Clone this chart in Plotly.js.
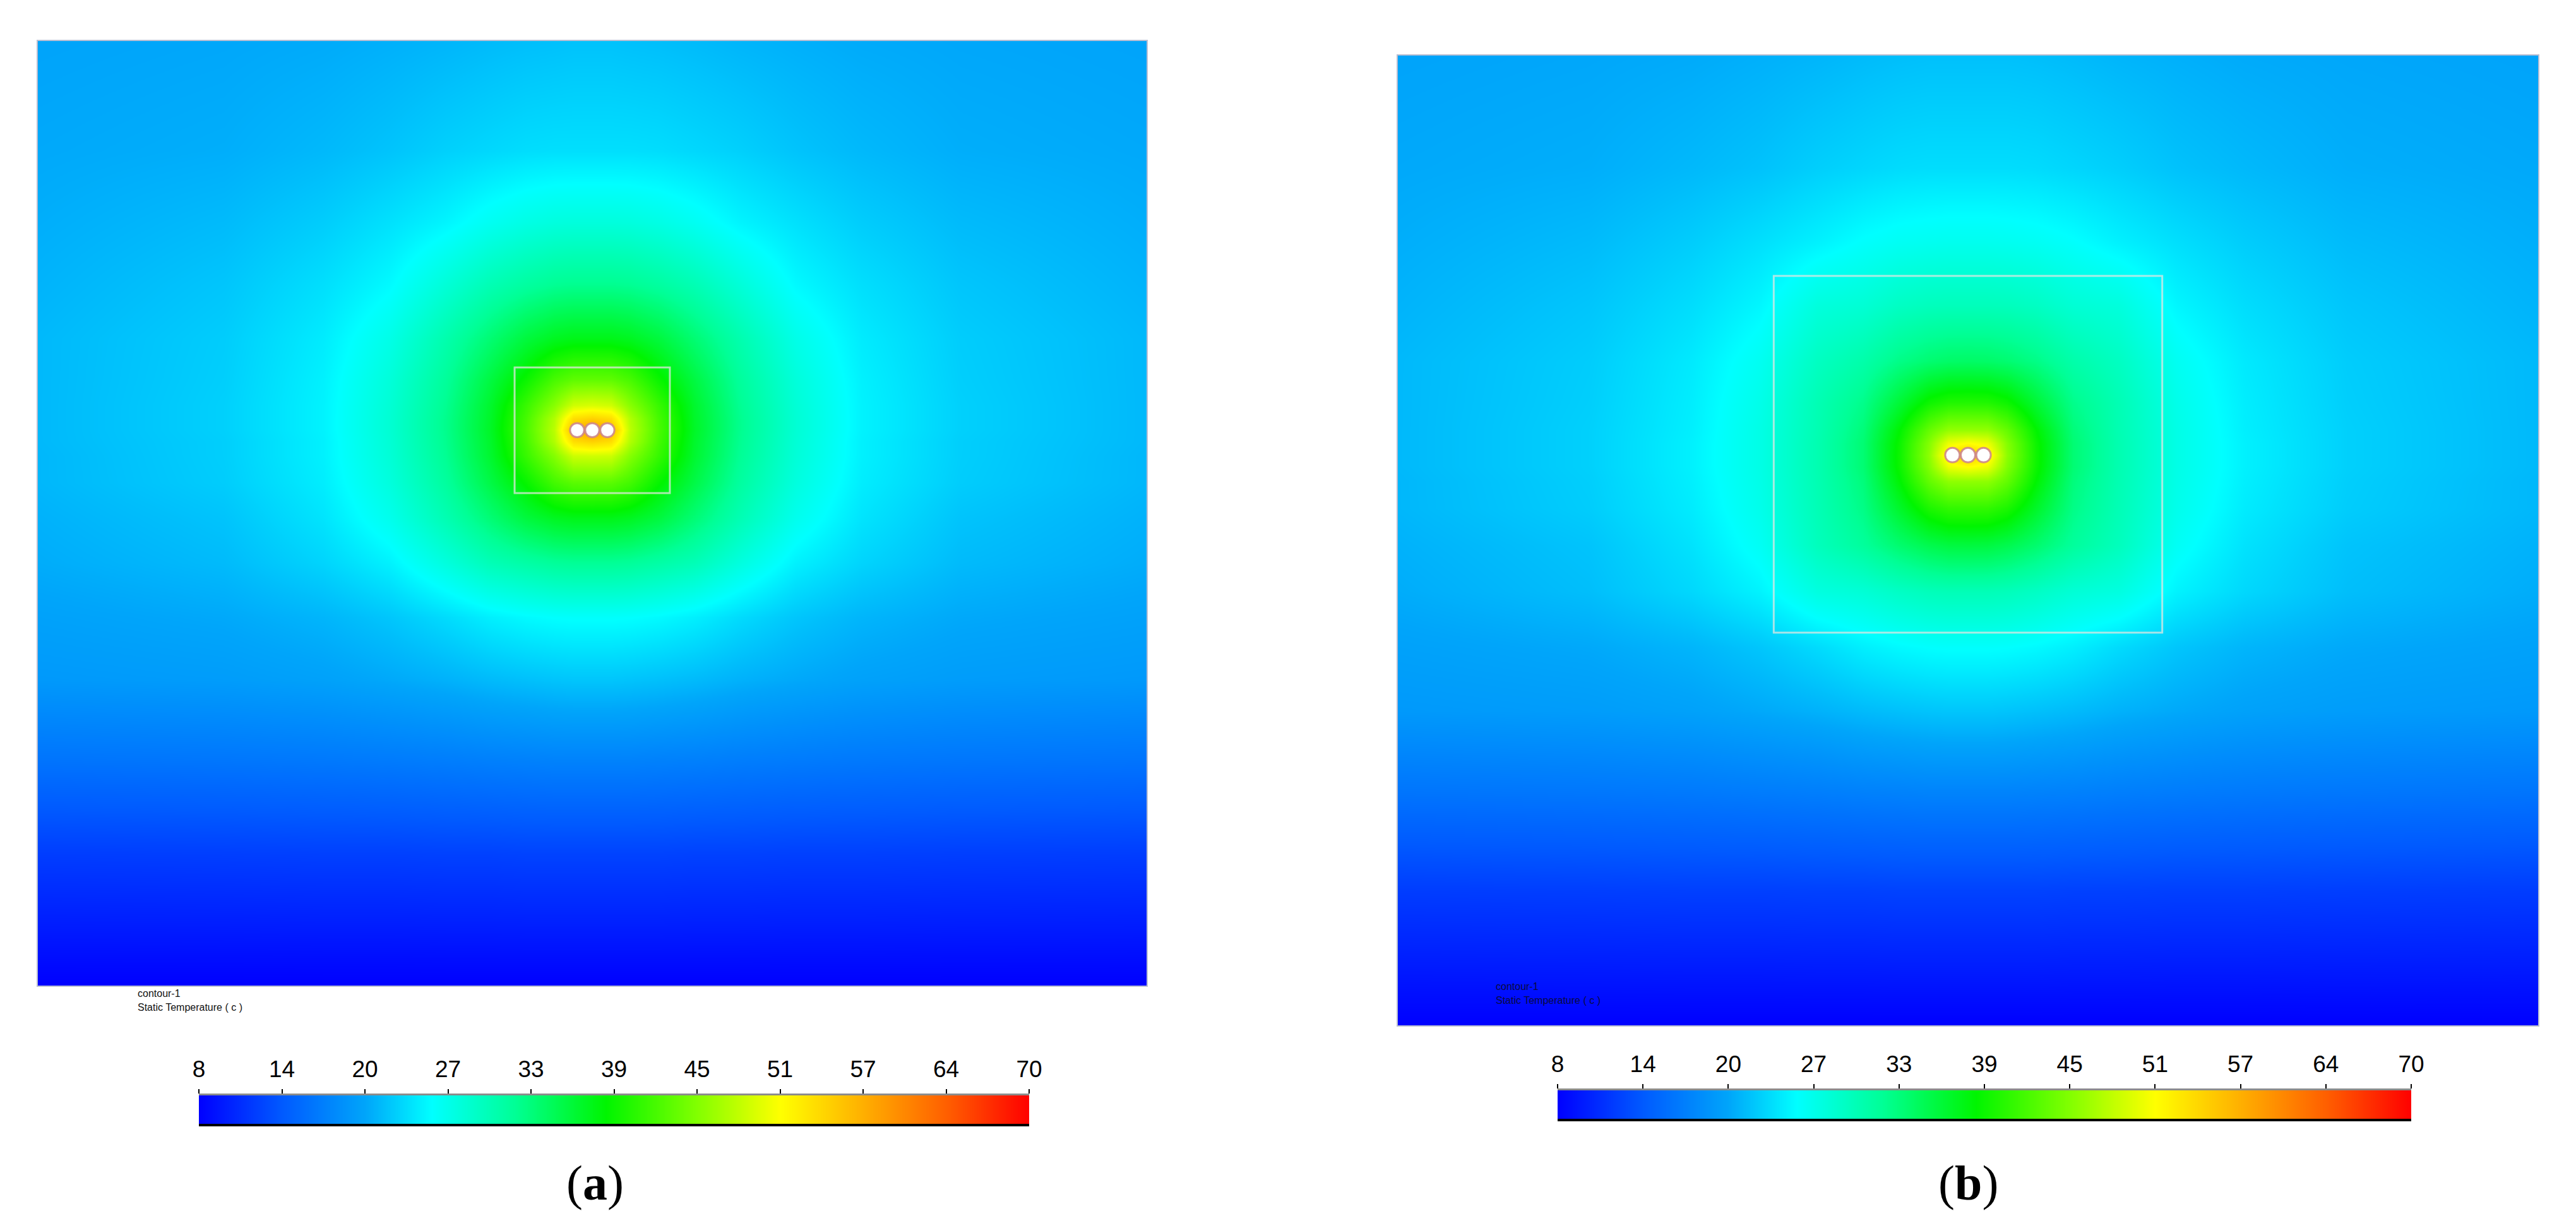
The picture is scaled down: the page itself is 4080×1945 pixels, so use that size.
<!DOCTYPE html>
<html>
<head>
<meta charset="utf-8">
<script src="https://cdn.plot.ly/plotly-3.0.1.min.js"></script>
<style>html,body{margin:0;padding:0;background:#fff;}#chart{width:4080px;height:1945px;}</style>
</head>
<body>
<div id="chart"></div>
<script>
// ---- Data ----
// horizontal grid (m, relative to the cable centre) and depth grid (m below surface)
const fieldX = [-5.87,-3.9,-2.85,-2.15,-1.55,-1.08,-0.7,-0.4,-0.2,0,0.2,0.4,0.7,1.08,1.55,2.15,2.85,3.9,5.87];
const fieldDepth = [0,1.16,1.92,2.58,3.15,3.58,3.86,4.0,4.12,4.24,4.39,4.67,5.05,5.53,6.1,6.76,7.6,8.6,10];

// Static temperature (°C), panel (a)
const tempA = [
[20.3,20.5,20.7,21.0,21.3,21.6,21.8,21.9,22.0,22.0,22.0,21.9,21.8,21.6,21.3,21.0,20.7,20.5,20.3],
[20.6,20.9,21.5,22.1,22.8,23.2,23.5,23.6,23.6,23.6,23.6,23.6,23.5,23.2,22.8,22.1,21.5,20.9,20.6],
[20.9,21.6,22.6,23.7,24.8,26.1,26.9,27.3,27.4,27.4,27.4,27.3,26.9,26.1,24.8,23.7,22.6,21.6,20.9],
[21.2,22.2,23.6,25.1,27.7,29.8,31.0,31.7,31.9,31.9,31.9,31.7,31.0,29.8,27.7,25.1,23.6,22.2,21.2],
[21.5,22.6,24.3,26.7,30.2,33.2,35.6,36.9,37.3,37.3,37.3,36.9,35.6,33.2,30.2,26.7,24.3,22.6,21.5],
[21.5,22.7,24.6,27.5,31.3,35.4,38.9,42.1,43.3,43.4,43.3,42.1,38.9,35.4,31.3,27.5,24.6,22.7,21.5],
[21.5,22.8,24.7,27.8,31.8,36.3,41.3,45.5,49.0,49.5,49.0,45.5,41.3,36.3,31.8,27.8,24.7,22.8,21.5],
[21.5,22.8,24.7,27.9,32.0,36.5,42.0,47.5,54.0,55.0,54.0,47.5,42.0,36.5,32.0,27.9,24.7,22.8,21.5],
[21.5,22.8,24.7,27.9,32.0,36.6,42.2,48.0,57.0,60.0,57.0,48.0,42.2,36.6,32.0,27.9,24.7,22.8,21.5],
[21.5,22.7,24.6,27.8,31.9,36.4,41.9,47.5,54.0,55.0,54.0,47.5,41.9,36.4,31.9,27.8,24.6,22.7,21.5],
[21.4,22.7,24.6,27.7,31.7,36.2,41.2,45.3,48.8,49.0,48.8,45.3,41.2,36.2,31.7,27.7,24.6,22.7,21.4],
[21.4,22.6,24.4,27.3,31.1,35.2,38.7,41.9,43.1,43.2,43.1,41.9,38.7,35.2,31.1,27.3,24.4,22.6,21.4],
[21.1,22.1,23.9,26.4,29.9,33.1,35.6,36.9,37.3,37.3,37.3,36.9,35.6,33.1,29.9,26.4,23.9,22.1,21.1],
[20.8,21.6,23.0,24.6,27.3,29.6,30.6,31.3,31.5,31.5,31.5,31.3,30.6,29.6,27.3,24.6,23.0,21.6,20.8],
[20.1,20.6,21.3,22.2,23.4,24.5,25.1,25.4,25.5,25.5,25.5,25.4,25.1,24.5,23.4,22.2,21.3,20.6,20.1],
[19.4,19.7,20.1,20.6,21.1,21.6,21.9,22.1,22.2,22.2,22.2,22.1,21.9,21.6,21.1,20.6,20.1,19.7,19.4],
[16.4,16.6,16.8,17.0,17.2,17.4,17.5,17.6,17.6,17.6,17.6,17.6,17.5,17.4,17.2,17.0,16.8,16.6,16.4],
[12.2,12.3,12.4,12.4,12.5,12.5,12.6,12.6,12.6,12.6,12.6,12.6,12.6,12.5,12.5,12.4,12.4,12.3,12.2],
[8.0,8.0,8.0,8.0,8.0,8.0,8.0,8.0,8.0,8.0,8.0,8.0,8.0,8.0,8.0,8.0,8.0,8.0,8.0]
];

// Static temperature (°C), panel (b)
const tempB = [
[20.3,20.5,20.7,21.0,21.3,21.6,21.8,21.9,21.9,21.9,21.9,21.9,21.8,21.6,21.3,21.0,20.7,20.5,20.3],
[20.6,20.9,21.5,22.0,22.7,23.1,23.4,23.5,23.5,23.5,23.5,23.5,23.4,23.1,22.7,22.0,21.5,20.9,20.6],
[20.9,21.6,22.6,23.6,24.6,25.5,26.0,26.2,26.3,26.3,26.3,26.2,26.0,25.5,24.6,23.6,22.6,21.6,20.9],
[21.2,22.2,23.5,24.9,27.4,27.9,28.9,29.3,29.4,29.4,29.4,29.3,28.9,27.9,27.4,24.9,23.5,22.2,21.2],
[21.5,22.6,24.2,26.1,29.0,30.4,32.3,33.3,33.7,33.8,33.7,33.3,32.3,30.4,29.0,26.1,24.2,22.6,21.5],
[21.5,22.7,24.4,26.6,29.8,32.1,36.0,39.1,40.1,40.2,40.1,39.1,36.0,32.1,29.8,26.6,24.4,22.7,21.5],
[21.5,22.8,24.5,26.8,29.9,32.9,38.4,43.6,46.0,46.1,46.0,43.6,38.4,32.9,29.9,26.8,24.5,22.8,21.5],
[21.5,22.8,24.6,26.8,30.0,33.2,39.0,45.2,50.5,51.5,50.5,45.2,39.0,33.2,30.0,26.8,24.6,22.8,21.5],
[21.5,22.8,24.6,26.8,30.0,33.2,39.1,45.7,53.0,57.0,53.0,45.7,39.1,33.2,30.0,26.8,24.6,22.8,21.5],
[21.5,22.8,24.6,26.8,30.0,33.2,39.0,45.1,50.5,51.5,50.5,45.1,39.0,33.2,30.0,26.8,24.6,22.8,21.5],
[21.4,22.7,24.5,26.7,29.9,32.8,38.3,43.5,45.8,45.9,45.8,43.5,38.3,32.8,29.9,26.7,24.5,22.7,21.4],
[21.4,22.6,24.3,26.5,29.7,32.3,36.5,39.8,40.9,41.0,40.9,39.8,36.5,32.3,29.7,26.5,24.3,22.6,21.4],
[21.1,22.1,23.8,25.9,29.3,31.2,33.4,34.8,35.4,35.5,35.4,34.8,33.4,31.2,29.3,25.9,23.8,22.1,21.1],
[20.8,21.8,23.2,24.7,27.2,27.8,28.8,29.4,29.6,29.6,29.6,29.4,28.8,27.8,27.2,24.7,23.2,21.8,20.8],
[20.1,20.6,21.3,22.2,23.4,24.5,25.1,25.4,25.5,25.5,25.5,25.4,25.1,24.5,23.4,22.2,21.3,20.6,20.1],
[19.4,19.7,20.1,20.6,21.1,21.6,21.9,22.1,22.2,22.2,22.2,22.1,21.9,21.6,21.1,20.6,20.1,19.7,19.4],
[16.4,16.6,16.8,17.0,17.2,17.4,17.5,17.6,17.6,17.6,17.6,17.6,17.5,17.4,17.2,17.0,16.8,16.6,16.4],
[12.2,12.3,12.4,12.4,12.5,12.5,12.6,12.6,12.6,12.6,12.6,12.6,12.6,12.5,12.5,12.4,12.4,12.3,12.2],
[8.0,8.0,8.0,8.0,8.0,8.0,8.0,8.0,8.0,8.0,8.0,8.0,8.0,8.0,8.0,8.0,8.0,8.0,8.0]
];

// Colour bar
const cbTickVals = [8,14.2,20.4,26.6,32.8,39,45.2,51.4,57.6,63.8,70];
const cbTickText = ['8','14','20','27','33','39','45','51','57','64','70'];

// Geometry (m)
const cableX = [-0.16, 0, 0.16];
const cableDepth = 4.12;
const cableRadius = 0.075;
const backfillA = [-0.822, 0.822, 3.456, 4.786];
const backfillB = [-2.0, 2.0, 2.272, 5.951];
const domainHalfWidth = 5.87;
const domainDepth = 10;

// ---- Styling ----
const tempScale = [
  [0.00,'rgb(0,0,255)'],
  [0.10,'rgb(0,90,255)'],
  [0.20,'rgb(0,165,250)'],
  [0.28,'rgb(0,255,255)'],
  [0.38,'rgb(0,255,150)'],
  [0.49,'rgb(0,245,0)'],
  [0.60,'rgb(130,255,0)'],
  [0.70,'rgb(255,255,0)'],
  [0.80,'rgb(255,175,0)'],
  [0.90,'rgb(255,95,0)'],
  [1.00,'rgb(255,0,0)']
];
const W = 4080, H = 1945;
const px = v => v / W;
const py = v => 1 - v / H;

function fieldTrace(z, xa, ya) {
  return {type:'heatmap', x:fieldX, y:fieldDepth, z:z, xaxis:xa, yaxis:ya,
    zmin:8, zmax:70, colorscale:tempScale, zsmooth:'best', showscale:false, hoverinfo:'skip'};
}
function barTrace(xa, ya) {
  return {type:'heatmap', x:cbTickVals, y:[0,1], z:[cbTickVals, cbTickVals], xaxis:xa, yaxis:ya,
    zmin:8, zmax:70, colorscale:tempScale, zsmooth:'best', showscale:false, hoverinfo:'skip'};
}

const data = [fieldTrace(tempA,'x','y'), fieldTrace(tempB,'x2','y2'), barTrace('x3','y3'), barTrace('x4','y4')];

const fieldXAxis = (dom, anchor) => ({domain:dom, anchor:anchor, range:[-domainHalfWidth, domainHalfWidth], showgrid:false, zeroline:false,
  showticklabels:false, ticks:'', showline:true, mirror:true, linecolor:'rgb(185,190,210)', linewidth:2, fixedrange:true});
const fieldYAxis = (dom, anchor) => ({domain:dom, anchor:anchor, range:[domainDepth, 0], showgrid:false, zeroline:false,
  showticklabels:false, ticks:'', showline:true, mirror:true, linecolor:'rgb(185,190,210)', linewidth:2, fixedrange:true});
const barXAxis = (dom, anchor) => ({domain:dom, anchor:anchor, range:[8,70], side:'top', tickmode:'array',
  tickvals:cbTickVals, ticktext:cbTickText, ticks:'outside', ticklen:7, tickwidth:2, tickcolor:'#000',
  showline:true, linecolor:'#8c8c8c', linewidth:3, showgrid:false, zeroline:false,
  tickfont:{family:'Liberation Sans, Arial, sans-serif', size:37, color:'#000'}, ticklabelstandoff:4, fixedrange:true});
const barYAxis = (dom, anchor) => ({domain:dom, anchor:anchor, range:[-0.5,1.5], visible:false, fixedrange:true});

const shapes = [];
function addBackfill(b, xr, yr) {
  shapes.push({type:'rect', xref:xr, yref:yr, x0:b[0], x1:b[1], y0:b[2], y1:b[3],
    line:{color:'rgba(225,230,225,0.75)', width:3}, fillcolor:'rgba(0,0,0,0)', layer:'above'});
}
function addCables(xr, yr) {
  cableX.forEach(cx => shapes.push({type:'circle', xref:xr, yref:yr,
    x0:cx - cableRadius, x1:cx + cableRadius, y0:cableDepth - cableRadius, y1:cableDepth + cableRadius,
    fillcolor:'#ffffff', line:{color:'rgba(205,135,135,0.9)', width:3}, layer:'above'}));
}
addBackfill(backfillA, 'x', 'y');
addBackfill(backfillB, 'x2', 'y2');
addCables('x', 'y');
addCables('x2', 'y2');
// bottom edge of colour bars
['x3','x4'].forEach((xa, i) => shapes.push({type:'line', xref:xa + ' domain', yref:(i ? 'y4' : 'y3') + ' domain',
  x0:0, x1:1, y0:0, y1:0, line:{color:'#000', width:4}}));

const small = {family:'Liberation Sans, Arial, sans-serif', size:16, color:'#111'};
const annotations = [
  {text:'contour-1', xref:'paper', yref:'paper', x:px(216), y:py(1573), xanchor:'left', yanchor:'middle', showarrow:false, font:small},
  {text:'Static Temperature ( c )', xref:'paper', yref:'paper', x:px(216), y:py(1595), xanchor:'left', yanchor:'middle', showarrow:false, font:small},
  {text:'contour-1', xref:'paper', yref:'paper', x:px(2367), y:py(1562), xanchor:'left', yanchor:'middle', showarrow:false, font:{...small, color:'#0a0a40'}},
  {text:'Static Temperature ( c )', xref:'paper', yref:'paper', x:px(2367), y:py(1584), xanchor:'left', yanchor:'middle', showarrow:false, font:{...small, color:'#0a0a40'}},
  {text:'(<b>a</b>)', xref:'paper', yref:'paper', x:px(942), y:py(1873), xanchor:'center', yanchor:'middle', showarrow:false,
    font:{family:'Liberation Serif, Times New Roman, serif', size:78, color:'#000'}},
  {text:'(<b>b</b>)', xref:'paper', yref:'paper', x:px(3117), y:py(1873), xanchor:'center', yanchor:'middle', showarrow:false,
    font:{family:'Liberation Serif, Times New Roman, serif', size:78, color:'#000'}}
];

const layout = {
  width:W, height:H, autosize:false, margin:{l:0,r:0,t:0,b:0,pad:0},
  paper_bgcolor:'#ffffff', plot_bgcolor:'#ffffff', showlegend:false,
  xaxis: fieldXAxis([px(60), px(1816)], 'y'),
  yaxis: fieldYAxis([py(1561), py(65)], 'x'),
  xaxis2: fieldXAxis([px(2214), px(4020)], 'y2'),
  yaxis2: fieldYAxis([py(1624), py(88)], 'x2'),
  xaxis3: barXAxis([px(315), px(1630)], 'y3'),
  yaxis3: barYAxis([py(1782), py(1735)], 'x3'),
  xaxis4: barXAxis([px(2467), px(3819)], 'y4'),
  yaxis4: barYAxis([py(1774), py(1727)], 'x4'),
  shapes: shapes,
  annotations: annotations
};

Plotly.newPlot('chart', data, layout, {staticPlot:true, displayModeBar:false});
</script>
</body>
</html>
